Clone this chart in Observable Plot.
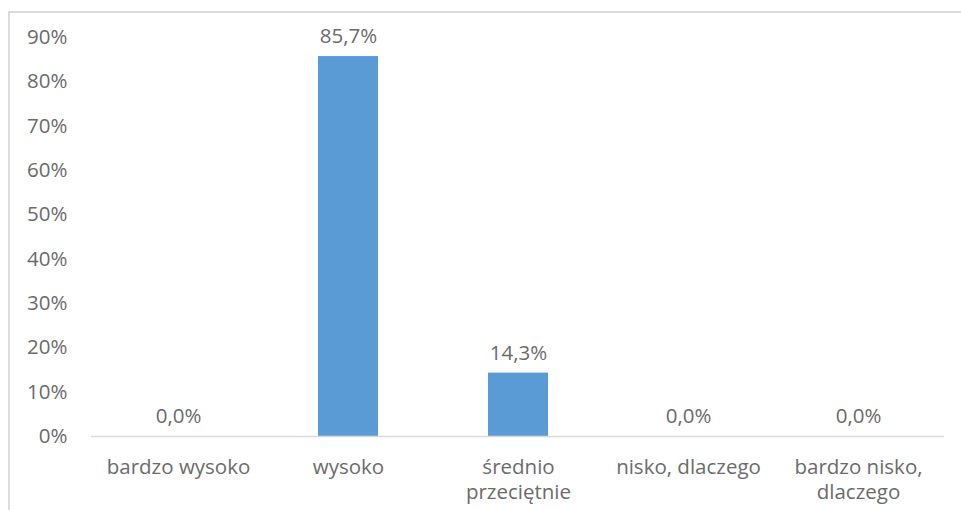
<!DOCTYPE html>
<html>
<head>
<meta charset="utf-8">
<script src="https://cdn.jsdelivr.net/npm/d3@7"></script>
<script src="https://cdn.jsdelivr.net/npm/@observablehq/plot@0.6"></script>
<style>
  html, body { margin: 0; padding: 0; background: #fff; }
  #wrap { position: relative; width: 961px; height: 510px; overflow: hidden; }
  #frame { position: absolute; left: 8px; top: 11px; width: 1000px; height: 600px;
           border-left: 2px solid #dcdcdc; border-top: 2px solid #dcdcdc; }
  #chart { position: absolute; left: 0; top: 0; }
</style>
</head>
<body>
<div id="wrap"><div id="frame"></div><div id="chart"></div></div>
<script>
const categories = ["bardzo wysoko", "wysoko", "średnio przeciętnie", "nisko, dlaczego", "bardzo nisko, dlaczego"];
const tickLabels = ["bardzo wysoko", "wysoko", "średnio\nprzeciętnie", "nisko, dlaczego", "bardzo nisko,\ndlaczego"];
const values = [0.0, 85.7, 14.3, 0.0, 0.0];
const yTicks = [0, 10, 20, 30, 40, 50, 60, 70, 80, 90];

const data = categories.map((c, i) => ({category: c, value: values[i]}));
const fmt = v => d3.format(".1f")(v).replace(".", ",") + "%";
const labelOf = new Map(categories.map((c, i) => [c, tickLabels[i]]));
const FS = 20.5;

const chart = Plot.plot({
  width: 961,
  height: 510,
  marginLeft: 91,
  marginRight: 17,
  marginTop: 37,
  marginBottom: 74,
  style: {fontFamily: "'Open Sans', sans-serif", fontSize: FS + "px", color: "#6b6b6b", background: "transparent", overflow: "visible"},
  x: {domain: categories, paddingInner: 0.648, paddingOuter: 0.324, label: null},
  y: {domain: [0, 90], label: null},
  marks: [
    Plot.axisY({ticks: yTicks, tickSize: 0, tickPadding: 24, tickFormat: d => d + "%", label: null, fill: "#6b6b6b", fontSize: FS}),
    Plot.axisX({tickSize: 0, tickPadding: 19, tickFormat: d => labelOf.get(d), label: null, lineHeight: 1.25, fill: "#6b6b6b", fontSize: FS}),
    Plot.barY(data, {x: "category", y: "value", fill: "#5b9bd5"}),
    Plot.ruleY([0], {stroke: "#d9d9d9", strokeWidth: 1.5}),
    Plot.text(data, {x: "category", y: "value", text: d => fmt(d.value), dy: -20, fill: "#6b6b6b", fontSize: FS})
  ]
});
document.getElementById("chart").appendChild(chart);
</script>
</body>
</html>
